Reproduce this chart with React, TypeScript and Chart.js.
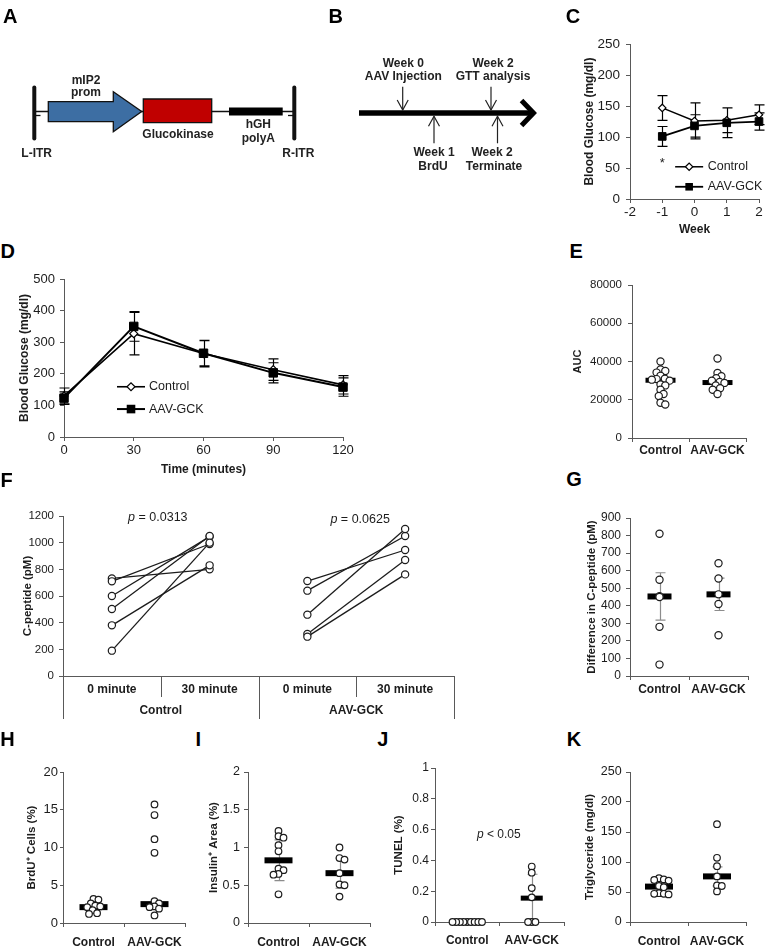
import { useEffect, useRef } from 'react';
import { Chart, registerables } from 'chart.js';

Chart.register(...registerables);

const FONT = '"Liberation Sans", Arial, Helvetica, sans-serif';
const INK = '#1c1c1c';
const AXIS = '#595959';
const ERR = '#8c8c8c';
Chart.defaults.font.family = FONT;
Chart.defaults.color = INK;

// ---------------- data ----------------
const groups = ['Control', 'AAV-GCK'];

// C: blood glucose by week
const cWeeks = [-1, 0, 1, 2];
const cCtrlMean = [147, 126, 127, 136];
const cCtrlSd = [20, 29, 20, 16];
const cGckMean = [101, 118, 123, 125];
const cGckSd = [16, 18, 24, 14];

// D: GTT
const dMinutes = [0, 30, 60, 90, 120];
const dCtrlMean = [130, 327, 264, 213, 165];
const dCtrlSd = [25, 67, 42, 34, 29];
const dGckMean = [123, 350, 265, 203, 158];
const dGckSd = [20, 47, 40, 32, 29];

// E: AUC
const eCtrl = [40000, 35800, 35000, 34200, 32500, 31000, 30800, 30500, 30000, 28000, 27500, 25200, 23000, 22000, 18400, 17500];
const eGck = [41600, 34000, 32300, 31300, 30000, 29300, 28800, 27500, 26000, 25200, 23000];
const eBar = [30200, 29000];

// F: C-peptide paired
const fTimes = ['0 minute', '30 minute'];
const fCtrl0 = [190, 380, 502, 600, 710, 732];
const fCtrl30 = [1000, 830, 1050, 1045, 990, 800];
const fGck0 = [295, 315, 460, 640, 712];
const fGck30 = [762, 870, 1102, 1050, 945];
const fPvals = ['0.0313', '0.0625'];

// G: difference in C-peptide
const gCtrl = [810, 548, 455, 450, 280, 65];
const gGck = [642, 555, 465, 410, 232];
const gBar = [453, 465];
const gSd = [135, 92];

// H: BrdU+
const hCtrl = [3.2, 3.1, 2.6, 2.3, 2.2, 2.1, 1.7, 1.3, 1.2];
const hGck = [15.7, 14.3, 11.1, 9.3, 2.9, 2.6, 2.2, 2.1, 1.9, 1.0];
const hBar = [2.1, 2.5];

// I: insulin+ area
const iCtrl = [1.22, 1.15, 1.13, 1.03, 0.95, 0.72, 0.7, 0.65, 0.64, 0.38];
const iGck = [1.0, 0.86, 0.84, 0.66, 0.51, 0.5, 0.35];
const iBar = [0.83, 0.66];
const iSd = [0.27, 0.2];

// J: TUNEL
const jCtrl = [0, 0, 0, 0, 0, 0, 0, 0, 0];
const jGck = [0.36, 0.32, 0.22, 0.16, 0, 0, 0];
const jBar = [0, 0.155];
const jSd = [0, 0.155];
const jP = '0.05';

// K: triglyceride
const kCtrl = [73, 71, 70, 69, 60, 58, 48, 47, 47, 46];
const kGck = [163, 107, 93, 76, 61, 60, 51];
const kBar = [59, 76];
const kSd = [10, 16];

// ---------------- helpers ----------------
type Rect = { left: number; top: number; width: number; height: number };
type Area = { left: number; top: number; right: number; bottom: number };

const fmt = (v: any) => String(Math.round(Number(v) * 1000) / 1000);

function frame(c: Rect, a: Area) {
  return {
    padding: { left: 0, top: a.top - c.top, right: c.left + c.width - a.right, bottom: 0 },
    yWidth: a.left - c.left,
    xHeight: c.top + c.height - a.bottom,
  };
}

function base(f: any) {
  return {
    responsive: false,
    maintainAspectRatio: false,
    animation: false,
    events: [],
    layout: { padding: f.padding },
    plugins: { legend: { display: false }, tooltip: { enabled: false } },
  };
}

function yAxis(o: any) {
  return {
    type: 'linear',
    position: 'left',
    min: o.min,
    max: o.max,
    ticks: { stepSize: o.step, padding: o.pad, color: INK, font: { size: o.fs }, callback: fmt },
    grid: { drawOnChartArea: false, tickLength: o.tickLen ?? 4, color: AXIS, tickColor: AXIS },
    border: { display: true, color: AXIS, width: 1 },
    title: {
      display: true,
      text: o.title,
      color: INK,
      font: { size: o.titleFs, weight: 'bold' },
      padding: { top: o.titlePad, bottom: 0 },
    },
    afterFit: (s: any) => {
      s.width = o.width;
    },
  };
}

function groupAxis(o: any) {
  return {
    type: 'linear',
    position: 'bottom',
    min: 0,
    max: 2,
    ticks: {
      stepSize: 0.5,
      autoSkip: false,
      maxRotation: 0,
      minRotation: 0,
      padding: o.pad,
      color: INK,
      font: { size: 12, weight: 'bold' },
      callback: (v: any) => (v === 0.5 ? groups[0] : v === 1.5 ? groups[1] : ''),
    },
    grid: {
      drawOnChartArea: false,
      tickLength: 4,
      color: AXIS,
      tickColor: (c: any) => (c.tick && Math.abs(c.tick.value % 1) > 1e-6 ? 'rgba(0,0,0,0)' : AXIS),
    },
    border: { display: true, color: AXIS, width: 1 },
    afterFit: (s: any) => {
      s.height = o.height;
    },
  };
}

// deterministic beeswarm: place each value at the smallest horizontal offset
function swarm(vals: number[], center: number, a: Area, yMin: number, yMax: number, minDist: number) {
  const py = (a.bottom - a.top) / (yMax - yMin);
  const pxX = (a.right - a.left) / 2;
  const placed: { dx: number; y: number }[] = [];
  return vals.map((v) => {
    const y = (v - yMin) * py;
    for (let k = 0; k < 500; k++) {
      const cands = k === 0 ? [0] : [k * 0.5, -k * 0.5];
      for (const dx of cands) {
        if (placed.every((p) => Math.hypot(p.dx - dx, p.y - y) >= minDist - 1e-6)) {
          placed.push({ dx, y });
          return { x: center + dx / pxX, y: v };
        }
      }
    }
    return { x: center, y: v };
  });
}

function errorBars(items: { x: number; y: number; e: number }[], color: string, cap: number, lw = 1.2) {
  return {
    id: 'errorBars',
    beforeDatasetsDraw(chart: any) {
      const { ctx } = chart;
      const xs = chart.scales.x;
      const ys = chart.scales.y;
      ctx.save();
      ctx.strokeStyle = color;
      ctx.lineWidth = lw;
      ctx.beginPath();
      for (const it of items) {
        if (!it.e) continue;
        const px = Math.round(xs.getPixelForValue(it.x)) + 0.5;
        const t = ys.getPixelForValue(it.y + it.e);
        const b = ys.getPixelForValue(it.y - it.e);
        ctx.moveTo(px, t);
        ctx.lineTo(px, b);
        ctx.moveTo(px - cap, t);
        ctx.lineTo(px + cap, t);
        ctx.moveTo(px - cap, b);
        ctx.lineTo(px + cap, b);
      }
      ctx.stroke();
      ctx.restore();
    },
  };
}

function notes(items: any[]) {
  return {
    id: 'notes',
    afterDatasetsDraw(chart: any) {
      const { ctx } = chart;
      const xs = chart.scales.x;
      const ys = chart.scales.y;
      ctx.save();
      for (const it of items) {
        const fonts = it.parts.map((p: any) => `${p.italic ? 'italic ' : ''}${it.size}px ${FONT}`);
        let w = 0;
        it.parts.forEach((p: any, k: number) => {
          ctx.font = fonts[k];
          w += ctx.measureText(p.text).width;
        });
        let cx = xs.getPixelForValue(it.x) - w / 2;
        const cy = ys.getPixelForValue(it.y);
        ctx.textBaseline = 'middle';
        ctx.textAlign = 'left';
        ctx.fillStyle = INK;
        it.parts.forEach((p: any, k: number) => {
          ctx.font = fonts[k];
          ctx.fillText(p.text, cx, cy);
          cx += ctx.measureText(p.text).width;
        });
      }
      ctx.restore();
    },
  };
}

function drawMarker(ctx: any, kind: string, x: number, y: number, r: number) {
  ctx.beginPath();
  if (kind === 'diamond') {
    ctx.moveTo(x - r, y);
    ctx.lineTo(x, y - r);
    ctx.lineTo(x + r, y);
    ctx.lineTo(x, y + r);
    ctx.closePath();
    ctx.fillStyle = '#fff';
    ctx.fill();
    ctx.lineWidth = 1.2;
    ctx.strokeStyle = '#000';
    ctx.stroke();
  } else {
    ctx.rect(x - r, y - r, 2 * r, 2 * r);
    ctx.fillStyle = '#000';
    ctx.fill();
  }
}

function innerLegend(spec: any) {
  return {
    id: 'innerLegend',
    afterDatasetsDraw(chart: any) {
      const { ctx } = chart;
      const x0 = chart.scales.x.getPixelForValue(spec.x);
      let yy = chart.scales.y.getPixelForValue(spec.y);
      ctx.save();
      for (const row of spec.rows) {
        ctx.strokeStyle = '#000';
        ctx.lineWidth = row.lw;
        ctx.beginPath();
        ctx.moveTo(x0, yy);
        ctx.lineTo(x0 + spec.len, yy);
        ctx.stroke();
        drawMarker(ctx, row.kind, x0 + spec.len / 2, yy, row.r);
        ctx.fillStyle = INK;
        ctx.font = `${spec.size}px ${FONT}`;
        ctx.textBaseline = 'middle';
        ctx.textAlign = 'left';
        ctx.fillText(row.label, x0 + spec.len + spec.gap, yy);
        yy += spec.rowGap;
      }
      ctx.restore();
    },
  };
}

// ---------------- panels ----------------
function panelAB() {
  const c = { left: 0, top: 0, width: 560, height: 180 };
  const schematic = {
    id: 'schematic',
    afterDraw(chart: any) {
      const { ctx } = chart;
      const X = (v: number) => chart.scales.x.getPixelForValue(v);
      const Y = (v: number) => chart.scales.y.getPixelForValue(v);
      const line = (x1: number, y1: number, x2: number, y2: number) => {
        ctx.beginPath();
        ctx.moveTo(X(x1), Y(y1));
        ctx.lineTo(X(x2), Y(y2));
        ctx.stroke();
      };
      const text = (t: string, cx: number, by: number) => {
        ctx.font = `bold 12px ${FONT}`;
        ctx.fillStyle = '#222';
        ctx.textAlign = 'center';
        ctx.textBaseline = 'alphabetic';
        ctx.fillText(t, X(cx), Y(by));
      };
      ctx.save();
      // --- A: construct
      ctx.strokeStyle = '#111';
      ctx.lineWidth = 1.3;
      line(34, 111.5, 294, 111.5);
      line(34, 115.5, 40.5, 115.5);
      line(288, 115.5, 294, 115.5);
      ctx.lineWidth = 4;
      ctx.lineCap = 'round';
      line(34.3, 87.5, 34.3, 138.5);
      line(294.3, 87.5, 294.3, 138.5);
      ctx.lineCap = 'butt';
      const arrow = [
        [48.3, 101.7], [113.3, 101.7], [113.3, 91.7], [141.7, 111.5],
        [113.3, 131.7], [113.3, 121.7], [48.3, 121.7],
      ];
      ctx.beginPath();
      arrow.forEach(([px, py], i) => (i ? ctx.lineTo(X(px), Y(py)) : ctx.moveTo(X(px), Y(py))));
      ctx.closePath();
      ctx.fillStyle = '#3d6ea3';
      ctx.fill();
      ctx.lineWidth = 1.3;
      ctx.strokeStyle = '#111';
      ctx.stroke();
      ctx.beginPath();
      ctx.rect(X(143.3), Y(99), X(211.7) - X(143.3), Y(122.7) - Y(99));
      ctx.fillStyle = '#c00000';
      ctx.fill();
      ctx.stroke();
      ctx.fillStyle = '#000';
      ctx.fillRect(X(229), Y(107.5), X(282.7) - X(229), Y(115.5) - Y(107.5));
      text('mIP2', 86, 83.5);
      text('prom', 86, 95.5);
      text('Glucokinase', 178, 138.3);
      text('hGH', 258.3, 128.3);
      text('polyA', 258.3, 141.7);
      text('L-ITR', 36.7, 157.3);
      text('R-ITR', 298.3, 157);
      // --- B: timeline
      ctx.strokeStyle = '#000';
      ctx.lineWidth = 5.5;
      line(359, 113, 531, 113);
      ctx.lineWidth = 5;
      ctx.lineJoin = 'miter';
      ctx.beginPath();
      ctx.moveTo(X(521.5), Y(100.5));
      ctx.lineTo(X(533.5), Y(113));
      ctx.lineTo(X(521.5), Y(125.5));
      ctx.stroke();
      ctx.lineWidth = 1.2;
      ctx.strokeStyle = '#222';
      const down = (x: number) => {
        line(x, 86.7, x, 110);
        ctx.beginPath();
        ctx.moveTo(X(x - 5.5), Y(100));
        ctx.lineTo(X(x), Y(110));
        ctx.lineTo(X(x + 5.5), Y(100));
        ctx.stroke();
      };
      const up = (x: number) => {
        line(x, 143.3, x, 116.3);
        ctx.beginPath();
        ctx.moveTo(X(x - 5.5), Y(126.3));
        ctx.lineTo(X(x), Y(116.3));
        ctx.lineTo(X(x + 5.5), Y(126.3));
        ctx.stroke();
      };
      down(402.7);
      down(491);
      up(434);
      up(497.5);
      text('Week 0', 403.3, 67);
      text('AAV Injection', 403.3, 80.3);
      text('Week 2', 493, 67);
      text('GTT analysis', 493, 80.3);
      text('Week 1', 434, 155.5);
      text('BrdU', 433, 169.5);
      text('Week 2', 492, 155.5);
      text('Terminate', 494, 169.5);
      ctx.restore();
    },
  };
  return {
    rect: c,
    config: {
      type: 'scatter',
      data: { datasets: [] },
      options: {
        ...base({ padding: 0 }),
        scales: {
          x: { type: 'linear', min: 0, max: c.width, display: false },
          y: { type: 'linear', min: 0, max: c.height, reverse: true, display: false },
        },
      },
      plugins: [schematic],
    },
  };
}

function panelC() {
  const c = { left: 560, top: 30, width: 206, height: 207 };
  const a = { left: 630, top: 41, right: 759, bottom: 199 };
  const f = frame(c, a);
  return {
    rect: c,
    config: {
      type: 'scatter',
      data: {
        datasets: [
          {
            data: cWeeks.map((w, i) => ({ x: w, y: cGckMean[i] })),
            showLine: true, borderColor: '#000', borderWidth: 1.8,
            pointStyle: 'rect', pointRadius: 5.4, pointBackgroundColor: '#000', pointBorderColor: '#000', pointBorderWidth: 1, clip: false,
          },
          {
            data: cWeeks.map((w, i) => ({ x: w, y: cCtrlMean[i] })),
            showLine: true, borderColor: '#000', borderWidth: 1.5,
            pointStyle: 'rectRot', pointRadius: 3.7, pointBackgroundColor: '#fff', pointBorderColor: '#000', pointBorderWidth: 1.2, clip: false,
          },
        ],
      },
      options: {
        ...base(f),
        scales: {
          x: {
            type: 'linear', min: -2, max: 2,
            ticks: { stepSize: 1, padding: 1, color: INK, font: { size: 13.5 }, callback: fmt, maxRotation: 0 },
            grid: { drawOnChartArea: false, tickLength: 4, color: AXIS },
            border: { display: true, color: AXIS },
            title: { display: true, text: 'Week', color: INK, font: { size: 12, weight: 'bold' }, padding: { top: 0, bottom: 0 } },
            afterFit: (s: any) => { s.height = f.xHeight; },
          },
          y: yAxis({ min: 0, max: 250, step: 50, fs: 13.5, pad: 6, title: 'Blood Glucose (mg/dl)', titleFs: 12, titlePad: 22.8, width: f.yWidth }),
        },
      },
      plugins: [
        errorBars(
          [
            ...cWeeks.map((w, i) => ({ x: w, y: cCtrlMean[i], e: cCtrlSd[i] })),
            ...cWeeks.map((w, i) => ({ x: w, y: cGckMean[i], e: cGckSd[i] })),
          ],
          '#000', 5, 1.2
        ),
        innerLegend({
          x: -0.6, y: 52, rowGap: 20, len: 28, gap: 4.5, size: 12.5,
          rows: [
            { label: groups[0], kind: 'diamond', r: 3.7, lw: 1.5 },
            { label: groups[1], kind: 'square', r: 3.8, lw: 1.8 },
          ],
        }),
        notes([{ x: -1, y: 57, size: 13, parts: [{ text: '*' }] }]),
      ],
    },
  };
}

function panelD() {
  const c = { left: 0, top: 265, width: 360, height: 212 };
  const a = { left: 64, top: 279, right: 343, bottom: 437 };
  const f = frame(c, a);
  return {
    rect: c,
    config: {
      type: 'scatter',
      data: {
        datasets: [
          {
            data: dMinutes.map((m, i) => ({ x: m, y: dGckMean[i] })),
            showLine: true, borderColor: '#000', borderWidth: 2,
            pointStyle: 'rect', pointRadius: 6, pointBackgroundColor: '#000', pointBorderColor: '#000', pointBorderWidth: 1, clip: false,
          },
          {
            data: dMinutes.map((m, i) => ({ x: m, y: dCtrlMean[i] })),
            showLine: true, borderColor: '#000', borderWidth: 1.6,
            pointStyle: 'rectRot', pointRadius: 4, pointBackgroundColor: '#fff', pointBorderColor: '#000', pointBorderWidth: 1.2, clip: false,
          },
        ],
      },
      options: {
        ...base(f),
        scales: {
          x: {
            type: 'linear', min: 0, max: 120,
            ticks: { stepSize: 30, padding: 2, color: INK, font: { size: 13 }, callback: fmt, maxRotation: 0 },
            grid: { drawOnChartArea: false, tickLength: 4, color: AXIS },
            border: { display: true, color: AXIS },
            title: { display: true, text: 'Time (minutes)', color: INK, font: { size: 12, weight: 'bold' }, padding: { top: 0, bottom: 0 } },
            afterFit: (s: any) => { s.height = f.xHeight; },
          },
          y: yAxis({ min: 0, max: 500, step: 100, fs: 13, pad: 5, title: 'Blood Glucose (mg/dl)', titleFs: 12, titlePad: 17.8, width: f.yWidth }),
        },
      },
      plugins: [
        errorBars(
          [
            ...dMinutes.map((m, i) => ({ x: m, y: dCtrlMean[i], e: dCtrlSd[i] })),
            ...dMinutes.map((m, i) => ({ x: m, y: dGckMean[i], e: dGckSd[i] })),
          ],
          '#000', 5, 1.2
        ),
        innerLegend({
          x: 22.8, y: 159, rowGap: 22.3, len: 28, gap: 4, size: 12.5,
          rows: [
            { label: groups[0], kind: 'diamond', r: 4, lw: 1.6 },
            { label: groups[1], kind: 'square', r: 4.3, lw: 2 },
          ],
        }),
      ],
    },
  };
}

function groupPanel(o: any) {
  const f = frame(o.canvas, o.area);
  const pts = [
    ...swarm(o.ctrl, 0.5, o.area, o.min, o.max, o.minDist),
    ...swarm(o.gck, 1.5, o.area, o.min, o.max, o.minDist),
  ];
  const plugins: any[] = [];
  if (o.sd) {
    plugins.push(errorBars(o.bars.map((b: number, i: number) => ({ x: 0.5 + i, y: b, e: o.sd[i] })), ERR, o.cap ?? 5, 1.2));
  }
  if (o.notes) plugins.push(notes(o.notes));
  return {
    rect: o.canvas,
    config: {
      type: 'scatter',
      data: {
        datasets: [
          {
            data: pts, pointStyle: 'circle', pointRadius: o.r, pointBackgroundColor: '#fff',
            pointBorderColor: INK, pointBorderWidth: 1.2, clip: false, order: 0,
          },
          {
            data: o.bars.map((b: number, i: number) => ({ x: 0.5 + i, y: b })),
            pointStyle: 'line', pointRadius: o.barHalf, pointBorderWidth: o.barW,
            pointBorderColor: '#000', pointBackgroundColor: '#000', clip: false, order: 1,
          },
        ],
      },
      options: {
        ...base(f),
        scales: {
          x: groupAxis({ pad: o.xPad, height: f.xHeight }),
          y: yAxis({
            min: o.min, max: o.max, step: o.step, fs: o.fs, pad: o.yPad, title: o.title,
            titleFs: o.titleFs ?? 11.5, titlePad: o.titlePad, width: f.yWidth, tickLen: o.tickLen,
          }),
        },
      },
      plugins,
    },
  };
}

function panelF() {
  const c = { left: 0, top: 500, width: 470, height: 225 };
  const a = { left: 63, top: 516, right: 454, bottom: 676 };
  const f = frame(c, a);
  const lineDs = (y0: number, y1: number, x0: number) => ({
    data: [{ x: x0, y: y0 }, { x: x0 + 1, y: y1 }],
    showLine: true, borderColor: INK, borderWidth: 1.3,
    pointStyle: 'circle', pointRadius: 3.6, pointBackgroundColor: '#fff', pointBorderColor: INK, pointBorderWidth: 1.2, clip: false,
  });
  const separators = {
    id: 'separators',
    afterDraw(chart: any) {
      const { ctx } = chart;
      const xs = chart.scales.x;
      const bottom = chart.chartArea.bottom;
      const marks = [[-0.5, 43], [0.5, 21], [1.5, 43], [2.5, 21], [3.5, 43]];
      ctx.save();
      ctx.strokeStyle = AXIS;
      ctx.lineWidth = 1;
      ctx.beginPath();
      for (const [v, len] of marks) {
        const px = Math.round(xs.getPixelForValue(v)) + 0.5;
        ctx.moveTo(px, bottom);
        ctx.lineTo(px, bottom + len);
      }
      ctx.stroke();
      ctx.restore();
    },
  };
  const label = (v: number) => {
    const r = Math.round(v * 2) / 2;
    if (r === 0 || r === 2) return fTimes[0];
    if (r === 1 || r === 3) return fTimes[1];
    if (r === 0.5) return ['', groups[0]];
    if (r === 2.5) return ['', groups[1]];
    return '';
  };
  return {
    rect: c,
    config: {
      type: 'scatter',
      data: {
        datasets: [
          ...fCtrl0.map((v, i) => lineDs(v, fCtrl30[i], 0)),
          ...fGck0.map((v, i) => lineDs(v, fGck30[i], 2)),
        ],
      },
      options: {
        ...base(f),
        scales: {
          x: {
            type: 'linear', min: -0.5, max: 3.5,
            ticks: {
              stepSize: 0.5, autoSkip: false, maxRotation: 0, minRotation: 0, padding: 3.5, color: INK,
              font: { size: 12, weight: 'bold', lineHeight: 1.75 }, callback: label,
            },
            grid: { drawOnChartArea: false, drawTicks: false, color: AXIS },
            border: { display: true, color: AXIS },
            afterFit: (s: any) => { s.height = f.xHeight; },
          },
          y: yAxis({ min: 0, max: 1200, step: 200, fs: 11.5, pad: 5, title: 'C-peptide (pM)', titleFs: 11.5, titlePad: 21, width: f.yWidth }),
        },
      },
      plugins: [
        separators,
        notes([
          { x: 0.47, y: 1185, size: 12.5, parts: [{ text: 'p', italic: true }, { text: ' = ' + fPvals[0] }] },
          { x: 2.54, y: 1174, size: 12.5, parts: [{ text: 'p', italic: true }, { text: ' = ' + fPvals[1] }] },
        ]),
      ],
    },
  };
}

const panels = [
  panelAB(),
  panelC(),
  panelD(),
  groupPanel({
    canvas: { left: 560, top: 265, width: 206, height: 195 },
    area: { left: 632, top: 278, right: 763, bottom: 438 },
    min: 0, max: 80000, step: 20000, fs: 11.5, yPad: 6, title: 'AUC', titleFs: 11, titlePad: 10.9, xPad: 1.5,
    ctrl: eCtrl, gck: eGck, bars: eBar, minDist: 5.5, r: 3.6, barHalf: 15, barW: 5,
  }),
  panelF(),
  groupPanel({
    canvas: { left: 560, top: 500, width: 206, height: 205 },
    area: { left: 630, top: 514, right: 763, bottom: 676 },
    min: 0, max: 900, step: 100, fs: 12, yPad: 5, title: 'Difference in C-peptide (pM)', titleFs: 11.5, titlePad: 25.1, xPad: 2.8,
    ctrl: gCtrl, gck: gGck, bars: gBar, sd: gSd, minDist: 0, r: 3.6, barHalf: 12, barW: 6,
  }),
  groupPanel({
    canvas: { left: 0, top: 752, width: 205, height: 196 },
    area: { left: 63, top: 765, right: 199, bottom: 923 },
    min: 0, max: 20, step: 5, fs: 13, yPad: 2, tickLen: 3, title: 'BrdU\u207A Cells (%)', titlePad: 24.6, xPad: 8.3,
    ctrl: hCtrl, gck: hGck, bars: hBar, minDist: 5.5, r: 3.3, barHalf: 14, barW: 6,
  }),
  groupPanel({
    canvas: { left: 190, top: 752, width: 200, height: 196 },
    area: { left: 248, top: 763, right: 382, bottom: 923 },
    min: 0, max: 2, step: 0.5, fs: 12.5, yPad: 4, title: 'Insulin\u207A Area (%)', titlePad: 17, xPad: 8.3,
    ctrl: iCtrl, gck: iGck, bars: iBar, sd: iSd, minDist: 5.5, r: 3.3, barHalf: 14, barW: 6,
  }),
  groupPanel({
    canvas: { left: 380, top: 752, width: 200, height: 196 },
    area: { left: 435, top: 764, right: 575, bottom: 922 },
    min: 0, max: 1, step: 0.2, fs: 12, yPad: 2, title: 'TUNEL (%)', titlePad: 11.8, xPad: 7.6,
    ctrl: jCtrl, gck: jGck, bars: jBar, sd: jSd, minDist: 4, r: 3.3, barHalf: 11, barW: 5,
    notes: [{ x: 0.99, y: 0.57, size: 12, parts: [{ text: 'p', italic: true }, { text: ' < ' + jP }] }],
  }),
  groupPanel({
    canvas: { left: 570, top: 752, width: 196, height: 196 },
    area: { left: 630, top: 762, right: 763, bottom: 922 },
    min: 0, max: 250, step: 50, fs: 12.5, yPad: 4.3, title: 'Triglyceride (mg/dl)', titlePad: 13.1, xPad: 8.1,
    ctrl: kCtrl, gck: kGck, bars: kBar, sd: kSd, minDist: 5.5, r: 3.3, barHalf: 14, barW: 6,
  }),
];

const letters = [
  { t: 'A', left: 3, top: 5.7 },
  { t: 'B', left: 328.5, top: 5.7 },
  { t: 'C', left: 565.7, top: 5.7 },
  { t: 'D', left: 0.5, top: 240.7 },
  { t: 'E', left: 569.5, top: 241.4 },
  { t: 'F', left: 0.5, top: 470.4 },
  { t: 'G', left: 566.3, top: 469.1 },
  { t: 'H', left: 0.2, top: 729.1 },
  { t: 'I', left: 195.4, top: 729.1 },
  { t: 'J', left: 377.2, top: 729.1 },
  { t: 'K', left: 566.8, top: 729.1 },
];

function ChartBox({ panel }: { panel: any }) {
  const ref = useRef<HTMLCanvasElement>(null);
  useEffect(() => {
    const chart = new Chart(ref.current as HTMLCanvasElement, panel.config);
    return () => chart.destroy();
  }, [panel]);
  const r = panel.rect;
  return (
    <canvas
      ref={ref}
      width={r.width}
      height={r.height}
      style={{ position: 'absolute', left: r.left, top: r.top, width: r.width, height: r.height }}
    />
  );
}

export default function App() {
  return (
    <div
      style={{
        position: 'absolute', left: 0, top: 0, width: 766, height: 948,
        background: '#fff', overflow: 'hidden', fontFamily: FONT,
      }}
    >
      {panels.map((p, i) => (
        <ChartBox key={i} panel={p} />
      ))}
      {letters.map((l) => (
        <div
          key={l.t}
          style={{
            position: 'absolute', left: l.left, top: l.top, fontSize: 20, lineHeight: '20px',
            fontWeight: 'bold', color: '#000', fontFamily: FONT,
          }}
        >
          {l.t}
        </div>
      ))}
    </div>
  );
}
